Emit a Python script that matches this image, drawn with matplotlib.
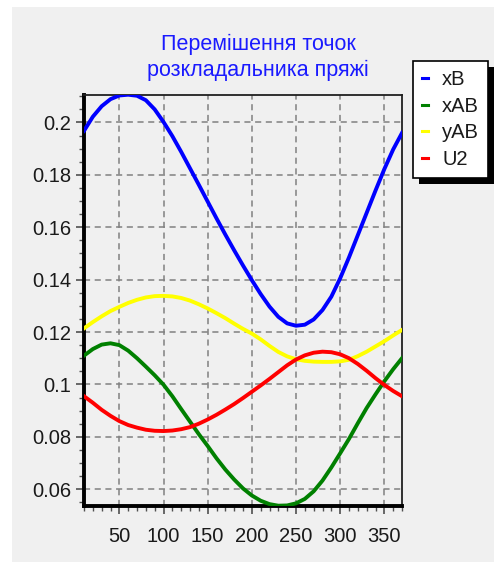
import matplotlib
matplotlib.use("Agg")
import matplotlib.pyplot as plt
from matplotlib.patches import Rectangle
from matplotlib.ticker import MultipleLocator, FuncFormatter

# ---- data ----
angle = [10, 20, 30, 40, 50, 60, 70, 80, 90, 100, 110, 120, 130, 140, 150, 160, 170, 180, 190,
         200, 210, 220, 230, 240, 250, 260, 270, 280, 290, 300, 310, 320, 330, 340, 350, 360, 370]

xB = [0.1968, 0.2022, 0.2062, 0.2089, 0.2103, 0.2106, 0.2102, 0.2085, 0.2050, 0.2002,
      0.1948, 0.1888, 0.1825, 0.1762, 0.1698, 0.1634, 0.1572, 0.1512, 0.1454, 0.1398,
      0.1345, 0.1297, 0.1258, 0.1233, 0.1224, 0.1228, 0.1248, 0.1284, 0.1335, 0.1405,
      0.1485, 0.1570, 0.1655, 0.1740, 0.1822, 0.1897, 0.1960]

xAB = [0.1110, 0.1135, 0.1152, 0.1157, 0.1150, 0.1129, 0.1100, 0.1068, 0.1035, 0.0999,
       0.0955, 0.0906, 0.0858, 0.0810, 0.0765, 0.0718, 0.0675, 0.0637, 0.0603, 0.0576,
       0.0556, 0.0543, 0.0537, 0.0538, 0.0546, 0.0563, 0.0592, 0.0633, 0.0683, 0.0737,
       0.0792, 0.0852, 0.0910, 0.0962, 0.1012, 0.1058, 0.1100]

yAB = [0.1214, 0.1238, 0.1260, 0.1280, 0.1296, 0.1311, 0.1323, 0.1332, 0.1337, 0.1338,
       0.1336, 0.1330, 0.1320, 0.1306, 0.1290, 0.1272, 0.1253, 0.1232, 0.1212, 0.1194,
       0.1172, 0.1147, 0.1124, 0.1107, 0.1096, 0.1090, 0.1087, 0.1086, 0.1086, 0.1088,
       0.1094, 0.1108, 0.1125, 0.1145, 0.1165, 0.1187, 0.1208]

U2 = [0.0955, 0.0930, 0.0903, 0.0880, 0.0860, 0.0845, 0.0835, 0.0827, 0.0823, 0.0822,
      0.0824, 0.0829, 0.0837, 0.0850, 0.0866, 0.0884, 0.0904, 0.0925, 0.0948, 0.0972,
      0.0996, 0.1021, 0.1047, 0.1073, 0.1095, 0.1111, 0.1121, 0.1125, 0.1123, 0.1115,
      0.1100, 0.1078, 0.1052, 0.1024, 0.0998, 0.0975, 0.0955]

series_names = ["xB", "xAB", "yAB", "U2"]
series_colors = ["#0000ff", "#008000", "#ffff00", "#ff0000"]
title_text = "Перемішення точок\nрозкладальника пряжі"

xticks = [50, 100, 150, 200, 250, 300, 350]
yticks = [0.06, 0.08, 0.10, 0.12, 0.14, 0.16, 0.18, 0.20]

# ---- figure ----
plt.rcParams['font.family'] = ['Liberation Sans', 'DejaVu Sans']
W, H = 494, 562
fig = plt.figure(figsize=(W / 100, H / 100), dpi=100, facecolor="white")

bg = "#f0f0f0"
fig.patches.append(Rectangle((12 / W, 0), 1 - 12 / W, 1 - 7 / H, transform=fig.transFigure,
                             facecolor=bg, edgecolor="none", zorder=-10))

ax = fig.add_axes([84 / W, 1 - 505.7 / H, (402 - 84) / W, (505.7 - 94.7) / H])
ax.set_facecolor(bg)

lines = []
for name, vals, col in zip(series_names, [xB, xAB, yAB, U2], series_colors):
    ln, = ax.plot(angle, vals, color=col, lw=2.8, label=name, zorder=3)
    lines.append(ln)

ax.set_xlim(10, 370)
ax.set_ylim(0.0537, 0.2106)

ax.set_xticks(xticks)
ax.set_yticks(yticks)
ax.xaxis.set_minor_locator(MultipleLocator(10))
ax.yaxis.set_minor_locator(MultipleLocator(0.005))
ax.yaxis.set_major_formatter(FuncFormatter(lambda v, p: "%g" % round(v, 4)))

ax.grid(True, which="major", color="#808080", lw=1.1, ls=(0, (4, 3)))
ax.tick_params(which="major", direction="out", length=6, width=1.2, color="#505050",
               labelsize=14.5, labelcolor="#1a1a1a")
ax.tick_params(axis="y", which="major", pad=3)
ax.tick_params(axis="x", which="major", pad=9)
ax.tick_params(which="minor", direction="out", length=3.5, width=1.0, color="#505050")

for side in ["left", "bottom"]:
    ax.spines[side].set_linewidth(2.8)
    ax.spines[side].set_color("black")
for side in ["top", "right"]:
    ax.spines[side].set_linewidth(1.3)
    ax.spines[side].set_color("#202020")

fig.text(258 / W, 1 - 57.5 / H, title_text, ha="center", va="center", fontsize=15.5,
         color="#1a1aff", linespacing=1.35)

leg = fig.legend(handles=lines, loc="upper left", bbox_to_anchor=(413 / W, 1 - 61 / H),
                 bbox_transform=fig.transFigure, borderaxespad=0, fontsize=14.5,
                 frameon=True, fancybox=False, handlelength=0.3, handletextpad=0.7,
                 labelspacing=0.38, borderpad=0.45)
leg.get_frame().set_edgecolor("black")
leg.get_frame().set_linewidth(1.2)
leg.get_frame().set_facecolor("white")
leg.get_frame().set_alpha(1)
for t in leg.get_texts():
    t.set_color("#1a1a1a")
for h in leg.legend_handles:
    h.set_linewidth(2.2)
leg.set_zorder(10)

fig.canvas.draw()
bb = leg.get_window_extent()
fig.patches.append(Rectangle(((bb.x0 + 6) / W, (bb.y0 - 6) / H), bb.width / W, bb.height / H,
                             transform=fig.transFigure, facecolor="black", edgecolor="none",
                             zorder=5))

fig.savefig("out.png", dpi=100, facecolor="white")
